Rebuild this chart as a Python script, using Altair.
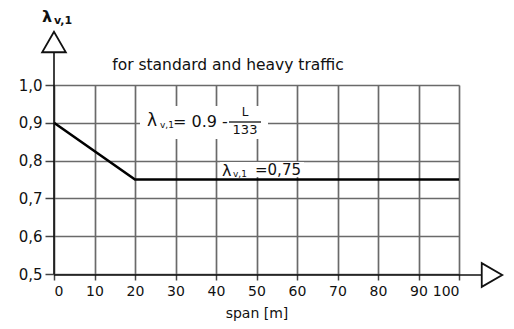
import altair as alt
import pandas as pd

# data
span = [0, 20, 100]
lam = [0.9, 0.75, 0.75]
x_ticks = [0, 10, 20, 30, 40, 50, 60, 70, 80, 90, 100]
y_ticks = [0.5, 0.6, 0.7, 0.8, 0.9, 1.0]
title_text = "for standard and heavy traffic"
x_title = "span [m]"

FONT = "DejaVu Sans"
W, H = 405, 189
GRID = "#6a6a6a"

df = pd.DataFrame({"span": span, "lam": lam})
one = pd.DataFrame({"k": [0]})

xs = alt.Scale(domain=[0, 100], nice=False, zero=False)
ys = alt.Scale(domain=[0.5, 1.0], nice=False, zero=False)

line = alt.Chart(df).mark_line(color="black", strokeWidth=2.6, clip=False).encode(
    x=alt.X("span:Q", scale=xs,
            axis=alt.Axis(values=x_ticks, grid=True, gridColor=GRID, gridWidth=1.7,
                          gridOpacity=1, domain=False, tickSize=6,
                          tickColor="#444", tickWidth=1.5, labelPadding=4,
                          labelFont=FONT, labelFontSize=14, labelColor="#111",
                          title=x_title, titleFont=FONT, titleFontSize=14,
                          titleFontWeight="normal", titleColor="#111", titlePadding=8)),
    y=alt.Y("lam:Q", scale=ys,
            axis=alt.Axis(values=y_ticks, grid=True, gridColor=GRID, gridWidth=1.7,
                          gridOpacity=1, domain=False, tickSize=9,
                          tickColor="#444", tickWidth=1.5, labelPadding=3,
                          labelFont=FONT, labelFontSize=15, labelColor="#111",
                          labelExpr="replace(format(datum.value, '.1f'), '.', ',')",
                          title=None)),
)

def txt(text, x, y, size, align="left", bold=False):
    return alt.Chart(one).mark_text(
        text=text, font=FONT, fontSize=size, align=align, baseline="middle",
        color="#111", fontWeight="bold" if bold else "normal", clip=False
    ).encode(x=alt.value(x), y=alt.value(y))

# white backgrounds behind annotations
bg1 = alt.Chart(one).mark_rect(color="white").encode(
    x=alt.value(86), x2=alt.value(214), y=alt.value(21), y2=alt.value(54))
bg2 = alt.Chart(one).mark_rect(color="white").encode(
    x=alt.value(166), x2=alt.value(250), y=alt.value(77), y2=alt.value(92))

# axis lines with arrows
yaxis = alt.Chart(one).mark_rule(color="#111", strokeWidth=1.6).encode(
    x=alt.value(0), y=alt.value(-40), y2=alt.value(H))
xaxis = alt.Chart(one).mark_rule(color="#111", strokeWidth=1.6).encode(
    x=alt.value(0), x2=alt.value(432), y=alt.value(H + 1))
arrow_up = alt.Chart(one).mark_point(shape="triangle-up", size=560, filled=True,
                                     fill="white", stroke="#111", strokeWidth=1.8,
                                     opacity=1, clip=False).encode(
    x=alt.value(0), y=alt.value(-43))
arrow_right = alt.Chart(one).mark_point(shape="triangle-right", size=560, filled=True,
                                        fill="white", stroke="#111", strokeWidth=1.8,
                                        opacity=1, clip=False).encode(
    x=alt.value(438), y=alt.value(H + 1))

frac = alt.Chart(one).mark_rule(color="#111", strokeWidth=1.3).encode(
    x=alt.value(175), x2=alt.value(207), y=alt.value(37))

layers = [
    bg1, bg2, line, yaxis, xaxis, arrow_up, arrow_right, frac,
    txt(title_text, 174, -20, 15.5, align="center"),
    txt("λ", -12, -68, 16, bold=True),
    txt("v,1", 0, -64, 11, bold=True),
    txt("λ", 93, 36, 17),
    txt("v,1", 106, 40, 9),
    txt("= 0.9 -", 119, 37, 16),
    txt("L", 191, 27, 12, align="center"),
    txt("133", 191, 45, 13, align="center"),
    txt("λ", 168, 86, 16),
    txt("v,1", 179, 89, 9),
    txt("=0,75", 201, 85, 15),
]

chart = alt.layer(*layers).properties(
    width=W, height=H,
    autosize=alt.AutoSizeParams(type="none"),
    padding={"left": 46, "top": 77, "right": 47, "bottom": 47},
).configure_view(stroke=None).configure(background="white")

chart.save("out.html", embed_options={"renderer": "svg", "actions": False})
